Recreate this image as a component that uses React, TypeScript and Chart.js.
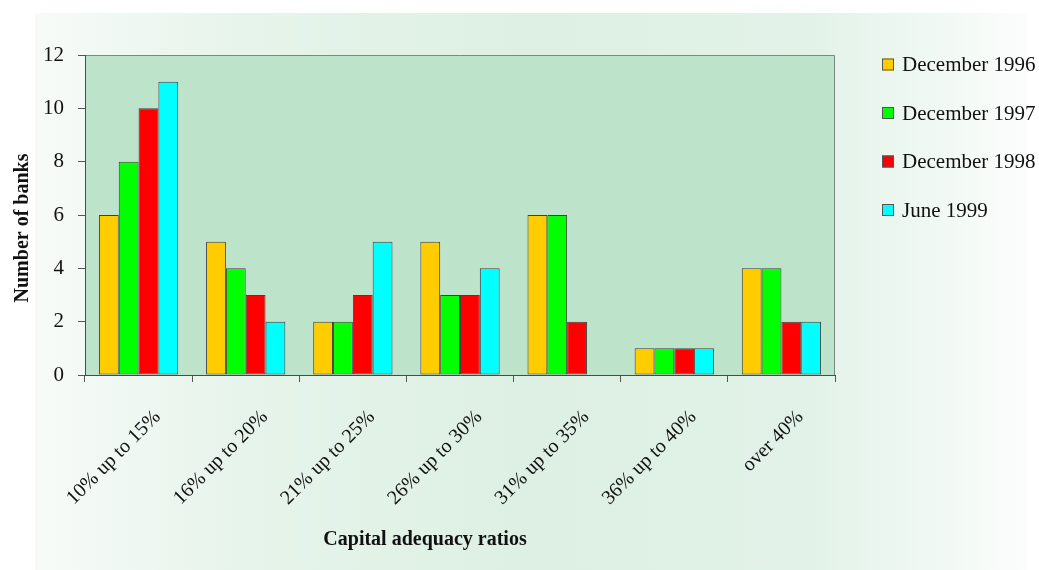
import { useEffect, useRef } from "react";
import { Chart, registerables } from "chart.js";

Chart.register(...registerables);

// Capital adequacy ratio bands and number of banks in each band
const categories = [
  "10% up to 15%",
  "16% up to 20%",
  "21% up to 25%",
  "26% up to 30%",
  "31% up to 35%",
  "36% up to 40%",
  "over 40%",
];
const seriesNames = ["December 1996", "December 1997", "December 1998", "June 1999"];
const dec1996 = [6, 5, 2, 5, 6, 1, 4];
const dec1997 = [8, 4, 2, 3, 6, 1, 4];
const dec1998 = [10, 3, 3, 3, 2, 1, 2];
const jun1999 = [11, 2, 5, 4, null, 1, 2];
const seriesColors = ["#ffcc00", "#00ff00", "#ff0000", "#00ffff"];
const yMin = 0;
const yMax = 12;
const yStep = 2;
const xTitle = "Capital adequacy ratios";
const yTitle = "Number of banks";

const SERIF = '"Liberation Serif", "Times New Roman", serif';

const decorPlugin = {
  id: "decor",
  beforeDraw(chart: any) {
    const { ctx, width, height, chartArea: a } = chart;
    ctx.save();
    ctx.fillStyle = "#ffffff";
    ctx.fillRect(0, 0, width, height);
    const g = ctx.createLinearGradient(35, 0, 1027, 0);
    g.addColorStop(0, "#f7fbf8");
    g.addColorStop(0.2, "#e7f4eb");
    g.addColorStop(0.5, "#ddf0e3");
    g.addColorStop(0.78, "#e2f2e8");
    g.addColorStop(1, "#fbfdfc");
    ctx.fillStyle = g;
    ctx.fillRect(35, 13, 992, 557);
    ctx.fillStyle = "#bde3cb";
    ctx.fillRect(a.left, a.top, a.right - a.left, a.bottom - a.top);
    // top and right frame of the plot area
    ctx.strokeStyle = "#7a8a80";
    ctx.lineWidth = 1;
    ctx.beginPath();
    ctx.moveTo(a.left, a.top + 0.5);
    ctx.lineTo(a.right - 0.5, a.top + 0.5);
    ctx.lineTo(a.right - 0.5, a.bottom);
    ctx.stroke();
    ctx.restore();
  },
  afterDraw(chart: any) {
    const { ctx } = chart;
    const xs = chart.scales.x;
    ctx.save();
    ctx.fillStyle = "#111111";

    // rotated category labels
    ctx.font = `20px ${SERIF}`;
    ctx.textAlign = "right";
    ctx.textBaseline = "middle";
    categories.forEach((label, i) => {
      const px = xs.getPixelForTick(i);
      ctx.save();
      ctx.translate(px + 19, 414);
      ctx.rotate(-Math.PI / 4);
      ctx.fillText(label, 0, 0);
      ctx.restore();
    });

    // axis titles
    ctx.font = `bold 20px ${SERIF}`;
    ctx.textAlign = "center";
    ctx.textBaseline = "alphabetic";
    ctx.fillText(xTitle, 425, 545);
    ctx.save();
    ctx.translate(28, 228);
    ctx.rotate(-Math.PI / 2);
    ctx.fillText(yTitle, 0, 0);
    ctx.restore();

    // legend
    ctx.font = `21px ${SERIF}`;
    ctx.textAlign = "left";
    chart.data.datasets.forEach((ds: any, i: number) => {
      const cy = 64.5 + i * 48.5;
      ctx.fillStyle = ds.backgroundColor;
      ctx.fillRect(882, cy - 6, 12, 12);
      ctx.strokeStyle = "#555555";
      ctx.lineWidth = 1;
      ctx.strokeRect(882.5, cy - 5.5, 11, 11);
      ctx.fillStyle = "#111111";
      ctx.fillText(ds.label, 902, cy + 6.5);
    });
    ctx.restore();
  },
};

export default function App() {
  const canvasRef = useRef<HTMLCanvasElement | null>(null);

  useEffect(() => {
    const canvas = canvasRef.current;
    if (!canvas) return;
    const values = [dec1996, dec1997, dec1998, jun1999];
    const chart = new Chart(canvas, {
      type: "bar",
      data: {
        labels: categories,
        datasets: seriesNames.map((name, i) => ({
          label: name,
          data: values[i],
          backgroundColor: seriesColors[i],
          borderColor: "#404040",
          borderWidth: 1,
          borderSkipped: false,
          categoryPercentage: 0.74,
          barPercentage: 1,
        })),
      },
      options: {
        responsive: false,
        animation: false,
        devicePixelRatio: 1,
        layout: { padding: { left: 0, top: 55, right: 204, bottom: 195 } },
        plugins: {
          legend: { display: false },
          tooltip: { enabled: false },
          title: { display: false },
        },
        scales: {
          x: {
            type: "category",
            offset: true,
            grid: {
              offset: true,
              drawOnChartArea: false,
              drawTicks: true,
              tickLength: 7,
              color: "#555555",
            },
            border: { display: true, color: "#4a4a4a", width: 1 },
            ticks: { display: false },
            afterFit: (s: any) => {
              s.height = 0;
            },
          },
          y: {
            min: yMin,
            max: yMax,
            grid: {
              drawOnChartArea: false,
              drawTicks: true,
              tickLength: 7,
              color: "#555555",
            },
            border: { display: true, color: "#4a4a4a", width: 1 },
            ticks: {
              stepSize: yStep,
              padding: 14,
              color: "#111111",
              font: { family: SERIF, size: 21 },
            },
            afterFit: (s: any) => {
              s.width = 85;
            },
          },
        },
      },
      plugins: [decorPlugin],
    });
    return () => chart.destroy();
  }, []);

  return (
    <div style={{ position: "fixed", left: 0, top: 0, width: 1039, height: 570 }}>
      <canvas ref={canvasRef} width={1039} height={570} style={{ display: "block" }} />
    </div>
  );
}
